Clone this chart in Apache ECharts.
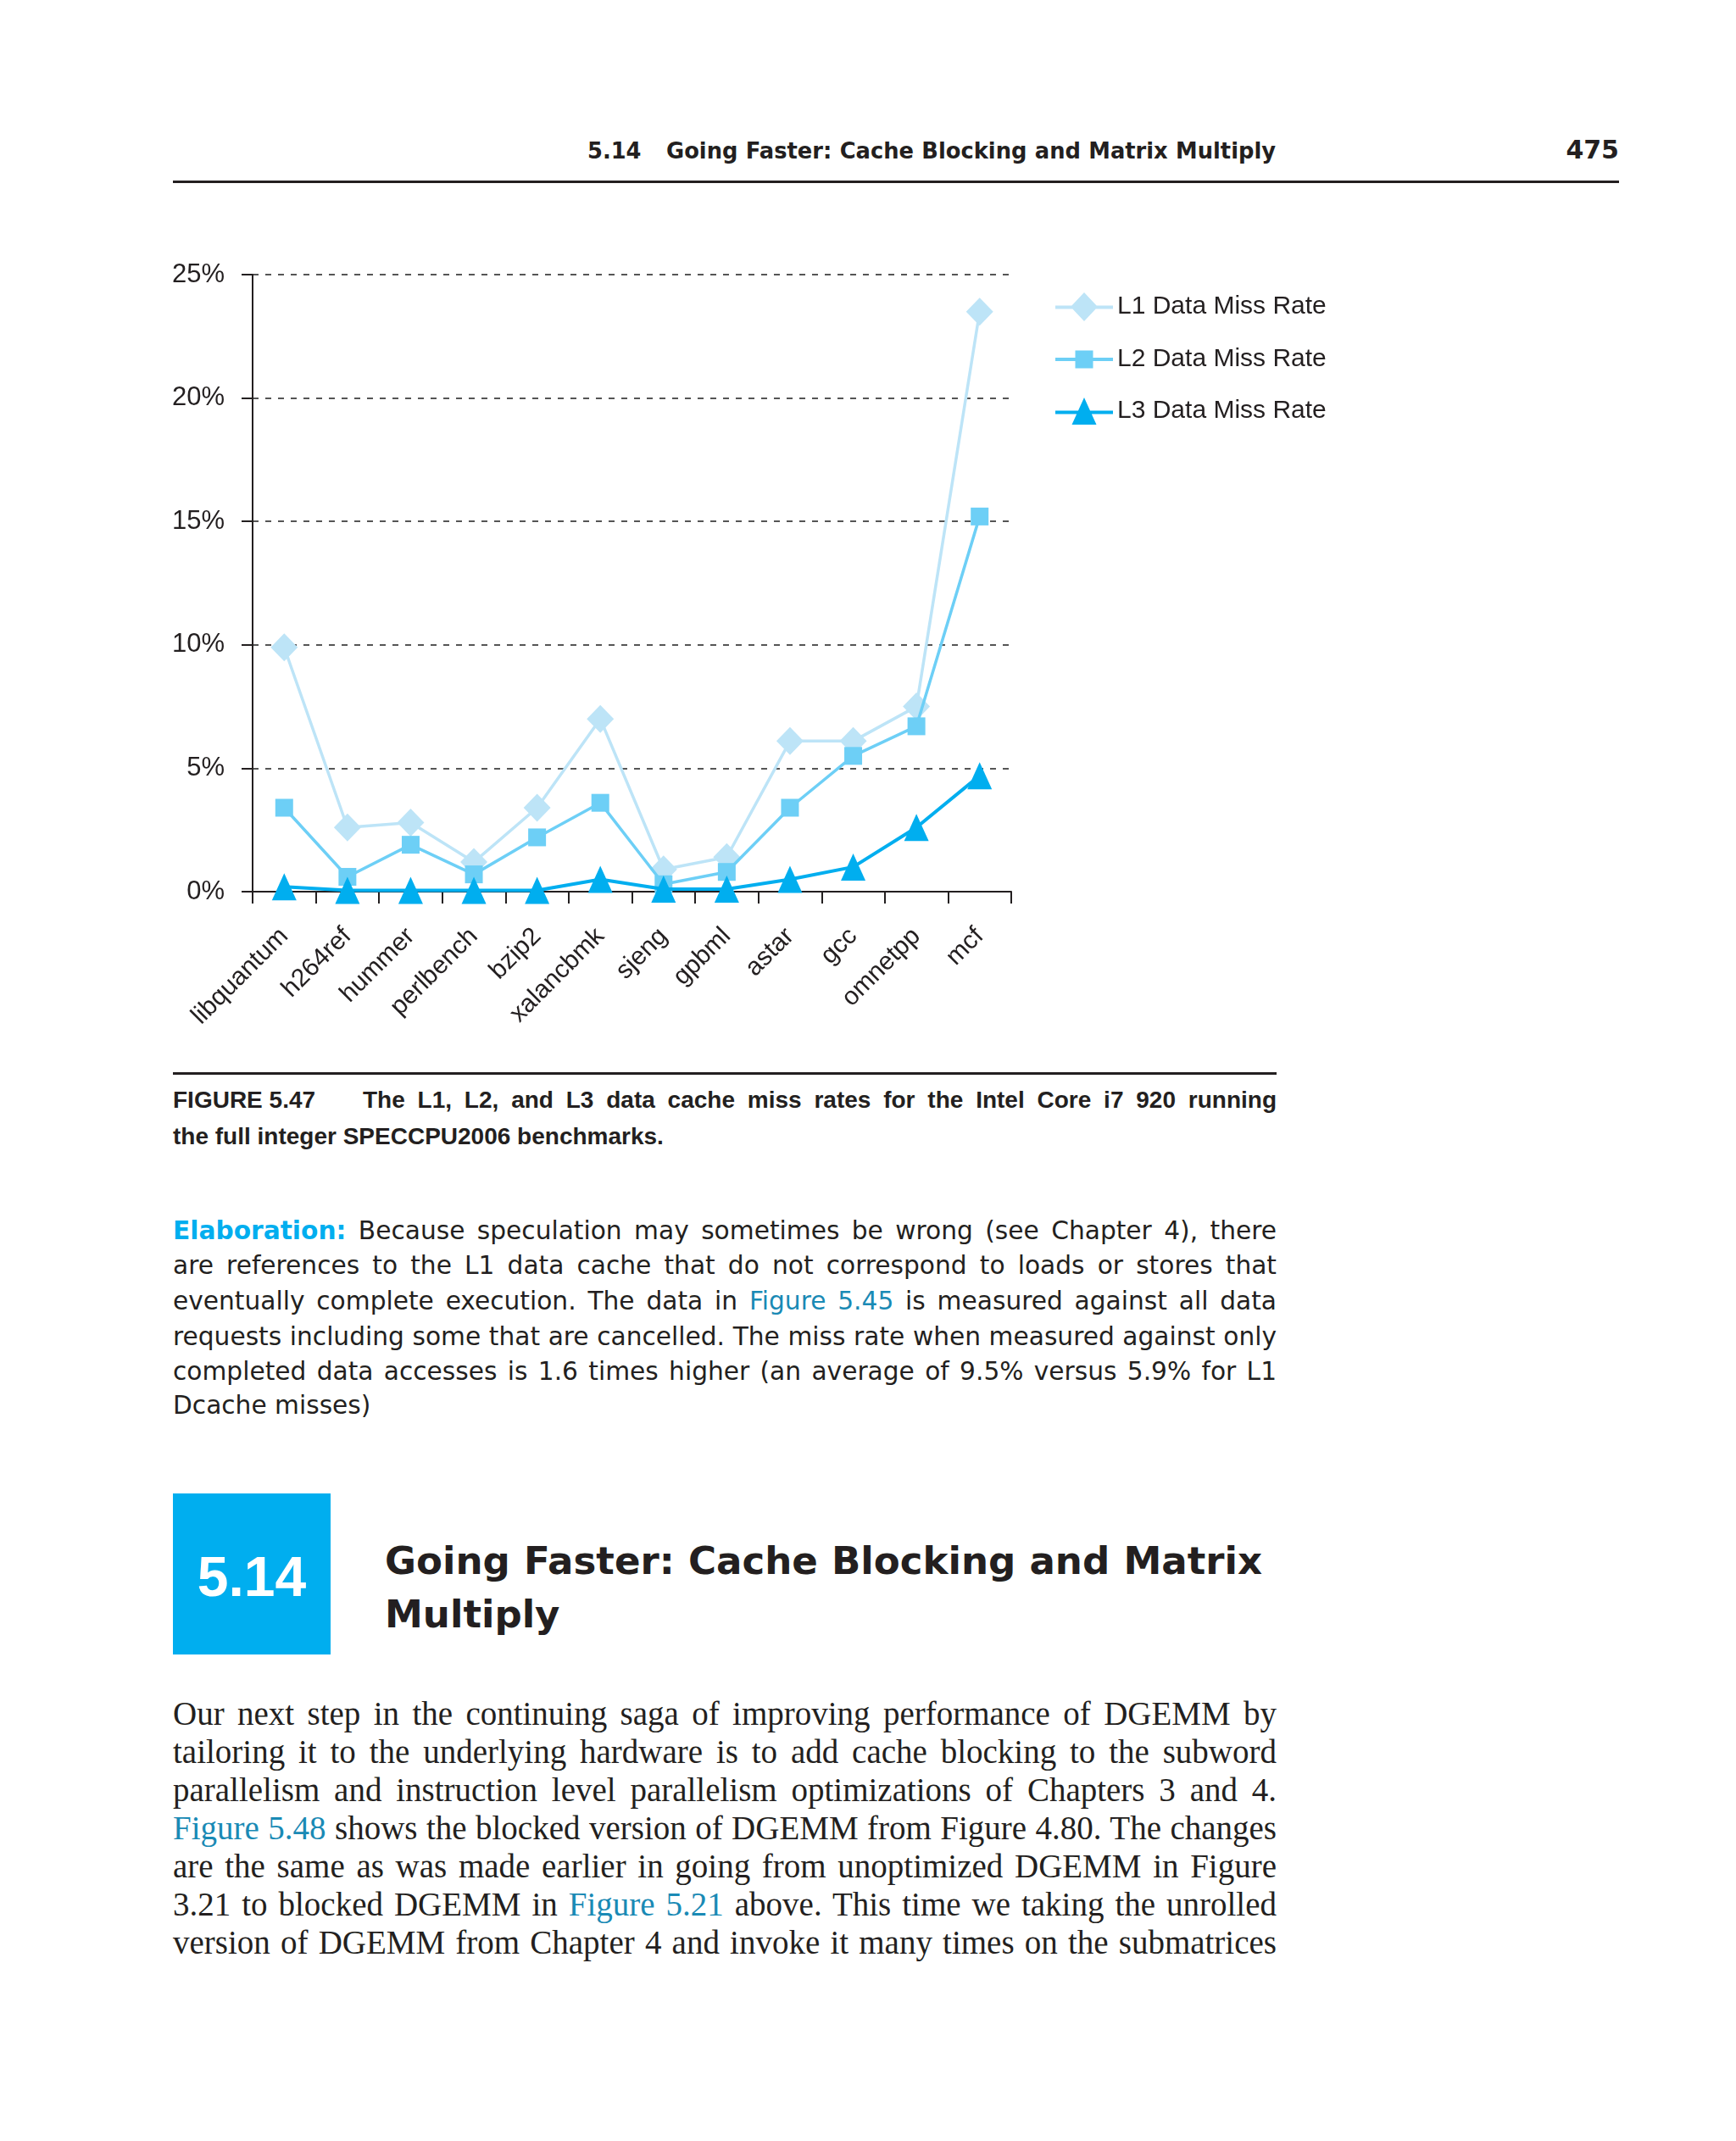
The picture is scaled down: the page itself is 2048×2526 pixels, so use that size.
<!DOCTYPE html>
<html>
<head>
<meta charset="utf-8">
<script src="https://cdn.jsdelivr.net/npm/echarts@6/dist/echarts.min.js"></script>
<style>
html,body{margin:0;padding:0;background:#ffffff;}
#page{position:relative;width:2048px;height:2526px;overflow:hidden;background:#ffffff;color:#231f20;}
#chart{position:absolute;left:0;top:0;width:2048px;height:1250px;}
.rule{position:absolute;background:#231f20;}
.ln{position:absolute;white-space:nowrap;line-height:1.2;}
.j{text-align:justify;text-align-last:justify;}
.sans{font-family:"DejaVu Sans","Liberation Sans",sans-serif;}
.arial{font-family:"Liberation Sans",Arial,sans-serif;}
.serif{font-family:"Liberation Serif","DejaVu Serif",serif;}
.b{font-weight:bold;}
.lk{color:#1a8ab5;}
.el{color:#00aeef;font-weight:bold;}
.bm{display:inline-block;width:0;height:0;vertical-align:baseline;}
</style>
</head>
<body>
<div id="page">
  <!-- running header -->
  <div class="ln sans b" data-g="hdr" data-x="693" data-b="187">5.14</div>
  <div class="ln sans b j" data-g="hdr" data-x="786" data-r="1505" data-b="187">Going Faster: Cache Blocking and Matrix Multiply</div>
  <div class="ln sans b" data-g="pg" data-xr="1910" data-b="187">475</div>
  <div class="rule" style="left:204px;top:213px;width:1706px;height:3px;"></div>

  <div id="chart"></div>

  <!-- figure caption -->
  <div class="rule" style="left:204px;top:1265px;width:1302px;height:3px;"></div>
  <div class="ln arial b" data-g="cap" data-x="204" data-b="1307">FIGURE 5.47</div>
  <div class="ln arial b j" data-g="cap" data-x="428" data-r="1506" data-b="1307">The L1, L2, and L3 data cache miss rates for the Intel Core i7 920 running</div>
  <div class="ln arial b" data-g="cap" data-x="204" data-b="1350">the full integer SPECCPU2006 benchmarks.</div>

  <!-- elaboration -->
  <div class="ln sans j" data-g="elab" data-x="204" data-r="1506" data-b="1462"><span class="el">Elaboration:</span> Because speculation may sometimes be wrong (see Chapter 4), there</div>
  <div class="ln sans j" data-g="elab" data-x="204" data-r="1506" data-b="1503">are references to the L1 data cache that do not correspond to loads or stores that</div>
  <div class="ln sans j" data-g="elab" data-x="204" data-r="1506" data-b="1545">eventually complete execution. The data in <span class="lk">Figure 5.45</span> is measured against all data</div>
  <div class="ln sans j" data-g="elab" data-x="204" data-r="1506" data-b="1587">requests including some that are cancelled. The miss rate when measured against only</div>
  <div class="ln sans j" data-g="elab" data-x="204" data-r="1506" data-b="1628">completed data accesses is 1.6 times higher (an average of 9.5% versus 5.9% for L1</div>
  <div class="ln sans" data-g="elab" data-x="204" data-b="1668">Dcache misses)</div>

  <!-- section heading -->
  <div style="position:absolute;left:204px;top:1762px;width:186px;height:190px;background:#00aeef;"></div>
  <div class="ln arial b" data-g="box" data-x="204" data-c="390" data-b="1883" style="color:#ffffff;">5.14</div>
  <div class="ln sans b j" data-g="head" data-x="454" data-r="1489" data-b="1857">Going Faster: Cache Blocking and Matrix</div>
  <div class="ln sans b" data-g="head" data-x="454" data-b="1920">Multiply</div>

  <!-- body text -->
  <div class="ln serif j" data-g="body" data-x="204" data-r="1506" data-b="2035">Our next step in the continuing saga of improving performance of DGEMM by</div>
  <div class="ln serif j" data-g="body" data-x="204" data-r="1506" data-b="2080">tailoring it to the underlying hardware is to add cache blocking to the subword</div>
  <div class="ln serif j" data-g="body" data-x="204" data-r="1506" data-b="2125">parallelism and instruction level parallelism optimizations of Chapters 3 and 4.</div>
  <div class="ln serif j" data-g="body" data-x="204" data-r="1506" data-b="2170"><span class="lk">Figure 5.48</span> shows the blocked version of DGEMM from Figure 4.80. The changes</div>
  <div class="ln serif j" data-g="body" data-x="204" data-r="1506" data-b="2215">are the same as was made earlier in going from unoptimized DGEMM in Figure</div>
  <div class="ln serif j" data-g="body" data-x="204" data-r="1506" data-b="2260">3.21 to blocked DGEMM in <span class="lk">Figure 5.21</span> above. This time we taking the unrolled</div>
  <div class="ln serif j" data-g="body" data-x="204" data-r="1506" data-b="2305">version of DGEMM from Chapter 4 and invoke it many times on the submatrices</div>
</div>

<script>
// ---------------- chart data ----------------
const categories = ['libquantum', 'h264ref', 'hummer', 'perlbench', 'bzip2', 'xalancbmk',
                    'sjeng', 'gpbml', 'astar', 'gcc', 'omnetpp', 'mcf'];
const seriesNames = ['L1 Data Miss Rate', 'L2 Data Miss Rate', 'L3 Data Miss Rate'];
const l1Data = [9.9, 2.6, 2.8, 1.2, 3.4, 7.0, 0.9, 1.4, 6.1, 6.1, 7.5, 23.5];
const l2Data = [3.4, 0.6, 1.9, 0.7, 2.2, 3.6, 0.3, 0.8, 3.4, 5.5, 6.7, 15.2];
const l3Data = [0.2, 0.05, 0.05, 0.05, 0.05, 0.5, 0.1, 0.1, 0.5, 1.0, 2.6, 4.7];
const yTicks = [0, 5, 10, 15, 20, 25];

const colL1 = '#bde4f7';
const colL2 = '#6dcff6';
const colL3 = '#00aeef';
const ink = '#231f20';
const fontFam = '"Liberation Sans", Arial, sans-serif';

const chart = echarts.init(document.getElementById('chart'), null, {renderer: 'canvas'});
const option = {
  animation: false,
  backgroundColor: 'transparent',
  textStyle: {fontFamily: fontFam},
  grid: {left: 298, top: 324, width: 895, height: 728, containLabel: false, outerBoundsMode: 'none'},
  legend: {
    orient: 'vertical',
    left: 1240,
    top: 340,
    itemWidth: 68,
    itemHeight: 34,
    itemGap: 30,
    selectedMode: false,
    textStyle: {fontSize: 30, color: ink, fontFamily: fontFam},
    data: [
      {name: seriesNames[0], icon: 'path://M0,15.5L68,15.5L68,19.5L0,19.5Z M34,0L50,17L34,34L18,17Z'},
      {name: seriesNames[1], icon: 'path://M0,15L68,15L68,19L0,19Z M23.5,6.5L44.5,6.5L44.5,27.5L23.5,27.5Z'},
      {name: seriesNames[2], icon: 'path://M0,15.6L68,15.6L68,19.6L0,19.6Z M34,0L48.5,32L19.5,32Z'}
    ]
  },
  xAxis: {
    type: 'category',
    data: categories,
    boundaryGap: true,
    axisLine: {show: true, lineStyle: {color: ink, width: 2}},
    axisTick: {show: true, length: 14, alignWithLabel: false, interval: 0, lineStyle: {color: ink, width: 2}},
    axisLabel: {rotate: 45, margin: 48, fontSize: 30, color: ink, interval: 0, fontFamily: fontFam},
    splitLine: {show: false}
  },
  yAxis: {
    type: 'value',
    min: yTicks[0],
    max: yTicks[yTicks.length - 1],
    interval: yTicks[1] - yTicks[0],
    axisLine: {show: true, lineStyle: {color: ink, width: 2}},
    axisTick: {show: true, length: 13, lineStyle: {color: ink, width: 2}},
    axisLabel: {formatter: '{value}%', fontSize: 31, margin: 33, color: ink, fontFamily: fontFam},
    splitLine: {show: true, lineStyle: {type: [7, 8], color: '#555555', width: 2}}
  },
  tooltip: {show: false},
  series: [
    {
      name: seriesNames[0], type: 'line', data: l1Data, symbol: 'diamond', symbolSize: [32, 33],
      showAllSymbol: true, clip: false, silent: true, z: 2,
      itemStyle: {color: colL1}, lineStyle: {color: colL1, width: 3.5}, emphasis: {disabled: true}
    },
    {
      name: seriesNames[1], type: 'line', data: l2Data, symbol: 'rect', symbolSize: 21,
      showAllSymbol: true, clip: false, silent: true, z: 3,
      itemStyle: {color: colL2}, lineStyle: {color: colL2, width: 3.5}, emphasis: {disabled: true}
    },
    {
      name: seriesNames[2], type: 'line', data: l3Data, symbol: 'triangle', symbolSize: [29, 32],
      showAllSymbol: true, clip: false, silent: true, z: 4,
      itemStyle: {color: colL3}, lineStyle: {color: colL3, width: 4}, emphasis: {disabled: true}
    }
  ]
};
chart.setOption(option);

// ---------------- page text layout ----------------
const groupMax = {hdr: 28, pg: 30, cap: 28, elab: 30, head: 52, box: 66, body: 39};
function layoutText() {
  const lines = Array.from(document.querySelectorAll('.ln'));
  lines.forEach(el => {
    if (!el.querySelector('.bm')) {
      const m = document.createElement('span');
      m.className = 'bm';
      el.insertBefore(m, el.firstChild);
    }
    el.style.whiteSpace = 'nowrap';
    el.style.width = 'auto';
    el.style.top = '0px';
    if (el.dataset.xr) {
      el.style.left = 'auto';
      el.style.right = (2048 - (+el.dataset.xr)) + 'px';
    } else {
      el.style.left = el.dataset.x + 'px';
    }
  });
  Object.keys(groupMax).forEach(g => {
    const els = lines.filter(e => e.dataset.g === g);
    let fs = groupMax[g];
    els.filter(e => e.classList.contains('j')).forEach(e => {
      e.style.fontSize = fs + 'px';
      const target = (+e.dataset.r) - (+e.dataset.x) - 2;
      const w = e.getBoundingClientRect().width;
      if (w > target) fs = fs * target / w;
    });
    els.forEach(e => { e.style.fontSize = fs + 'px'; });
  });
  lines.forEach(el => {
    if (el.dataset.r) {
      el.style.width = ((+el.dataset.r) - (+el.dataset.x)) + 'px';
      el.style.whiteSpace = 'normal';
    }
    if (el.dataset.c) {
      el.style.width = ((+el.dataset.c) - (+el.dataset.x)) + 'px';
      el.style.textAlign = 'center';
    }
    const m = el.querySelector('.bm');
    const off = m.offsetTop;
    el.style.top = ((+el.dataset.b) - off) + 'px';
  });
}
layoutText();
if (document.fonts && document.fonts.ready) {
  document.fonts.ready.then(layoutText);
}
</script>
</body>
</html>
